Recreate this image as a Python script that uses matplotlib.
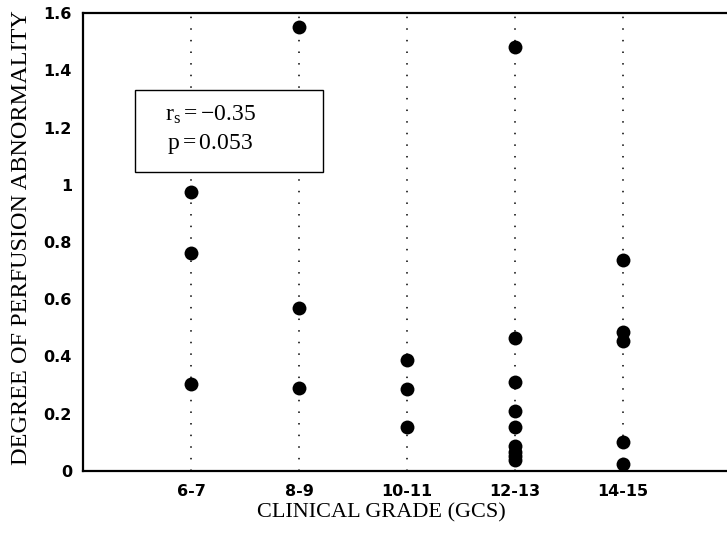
import matplotlib
matplotlib.use("Agg")
import matplotlib.pyplot as plt
from matplotlib.patches import Rectangle

plt.rcParams['mathtext.fontset'] = 'custom'
plt.rcParams['mathtext.rm'] = 'Liberation Serif'
plt.rcParams['mathtext.it'] = 'Liberation Serif:italic'

# clinical grade groups and perfusion abnormality values
grades = ["6-7", "8-9", "10-11", "12-13", "14-15"]
vals_6_7 = [0.975, 0.76, 0.305]
vals_8_9 = [1.55, 0.57, 0.29]
vals_10_11 = [0.387, 0.285, 0.155]
vals_12_13 = [1.48, 0.465, 0.31, 0.21, 0.155, 0.088, 0.068, 0.052, 0.04]
vals_14_15 = [0.736, 0.486, 0.455, 0.10, 0.025]
groups = [vals_6_7, vals_8_9, vals_10_11, vals_12_13, vals_14_15]

yticks = [0, 0.2, 0.4, 0.6, 0.8, 1.0, 1.2, 1.4, 1.6]
ytick_labels = ["0", "0.2", "0.4", "0.6", "0.8", "1", "1.2", "1.4", "1.6"]

fig = plt.figure(figsize=(7.27, 5.39), dpi=100)
ax = fig.add_axes([83 / 727, 68 / 539, 644 / 727, 458 / 539])

xs = range(1, len(grades) + 1)
for x, vals in zip(xs, groups):
    ax.plot([x, x], [0, 1.6], color="black", lw=1.1,
            linestyle=(0, (1, 6.6)), zorder=1)
    ax.plot([x] * len(vals), vals, "o", color="black", markersize=10,
            markeredgewidth=0, zorder=3)

ax.set_xlim(0, 644 / 108)
ax.set_ylim(0, 1.6)
ax.set_xticks(list(xs))
ax.set_xticklabels(grades)
ax.set_yticks(yticks)
ax.set_yticklabels(ytick_labels)
ax.tick_params(length=0)
ax.tick_params(axis="y", pad=8)
ax.tick_params(axis="x", pad=9)
for lab in ax.get_xticklabels() + ax.get_yticklabels():
    lab.set_fontfamily("DejaVu Sans")
    lab.set_fontweight("bold")
    lab.set_fontsize(11.5)

for s in ["left", "bottom", "top"]:
    ax.spines[s].set_linewidth(1.6)
ax.spines["right"].set_visible(False)

# statistics box
box = Rectangle((0.081, 0.653), 0.292, 0.179, transform=ax.transAxes,
                facecolor="white", edgecolor="black", lw=1.0, zorder=4)
ax.add_patch(box)
ax.text(0.127, 0.779, r"$\mathrm{r_s = -0.35}$", transform=ax.transAxes,
        fontsize=17, va="center", ha="left", zorder=5)
ax.text(0.130, 0.714, r"$\mathrm{p = 0.053}$", transform=ax.transAxes,
        fontsize=17, va="center", ha="left", zorder=5)

fig.text(22 / 727, 1 - 238 / 539, "DEGREE OF PERFUSION ABNORMALITY",
         rotation=90, ha="center", va="center",
         fontfamily="Liberation Serif", fontsize=17.5)
fig.text(381 / 727, 1 - 513 / 539, "CLINICAL GRADE (GCS)",
         ha="center", va="center",
         fontfamily="Liberation Serif", fontsize=16)

fig.savefig("out.png", dpi=100)
